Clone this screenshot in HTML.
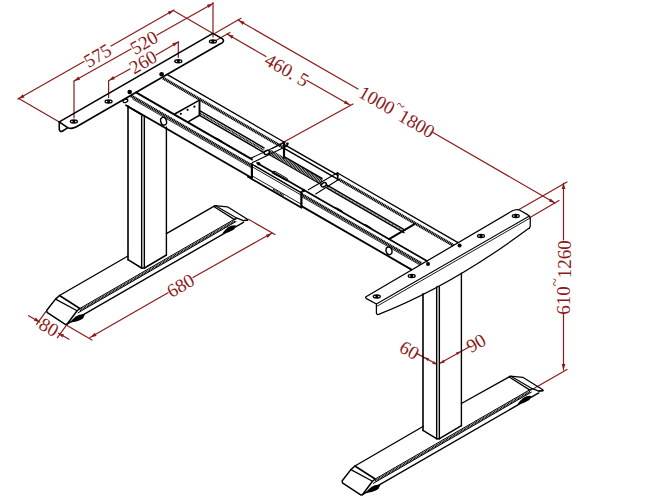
<!DOCTYPE html>
<html><head><meta charset="utf-8"><style>
html,body{margin:0;padding:0;background:#fff;}
svg{display:block;}
text{font-family:"Liberation Serif",serif;}
</style></head><body>
<svg width="651" height="500" viewBox="0 0 651 500" stroke-linecap="round">
<line x1="18.0" y1="99.0" x2="84.0" y2="61.5" stroke="#8b1a1a" stroke-width="1.2" />
<line x1="111.0" y1="46.0" x2="174.0" y2="10.0" stroke="#8b1a1a" stroke-width="1.2" />
<line x1="18.3" y1="98.2" x2="59.3" y2="121.9" stroke="#8b1a1a" stroke-width="1.2" />
<line x1="173.3" y1="10.5" x2="213.0" y2="33.4" stroke="#8b1a1a" stroke-width="1.2" />
<path d="M18.5,98.8 L22.8,94.3 L24.6,97.5 Z" fill="#8b1a1a"/>
<path d="M173.8,10.2 L169.5,14.7 L167.7,11.5 Z" fill="#8b1a1a"/>
<text transform="matrix(0.866,-0.5,0.5,0.866,97.5,55.5)" x="0" y="0" text-anchor="middle" dominant-baseline="central" font-family="Liberation Serif" font-size="19" fill="#8b1a1a">575</text>
<line x1="74.0" y1="81.0" x2="131.0" y2="49.0" stroke="#8b1a1a" stroke-width="1.2" />
<line x1="157.0" y1="35.0" x2="213.0" y2="3.5" stroke="#8b1a1a" stroke-width="1.2" />
<line x1="74.0" y1="81.0" x2="74.0" y2="118.0" stroke="#8b1a1a" stroke-width="1.2" />
<line x1="213.0" y1="2.5" x2="213.0" y2="37.0" stroke="#8b1a1a" stroke-width="1.2" />
<path d="M74.0,81.0 L78.3,76.5 L80.1,79.7 Z" fill="#8b1a1a"/>
<path d="M213.0,3.5 L208.7,8.0 L206.9,4.8 Z" fill="#8b1a1a"/>
<text transform="matrix(0.866,-0.5,0.5,0.866,144.0,42.5)" x="0" y="0" text-anchor="middle" dominant-baseline="central" font-family="Liberation Serif" font-size="19" fill="#8b1a1a">520</text>
<line x1="109.0" y1="80.5" x2="130.0" y2="69.0" stroke="#8b1a1a" stroke-width="1.2" />
<line x1="156.0" y1="55.0" x2="178.3" y2="42.0" stroke="#8b1a1a" stroke-width="1.2" />
<line x1="108.6" y1="80.5" x2="108.6" y2="97.5" stroke="#8b1a1a" stroke-width="1.2" />
<line x1="178.3" y1="41.5" x2="178.3" y2="57.5" stroke="#8b1a1a" stroke-width="1.2" />
<path d="M108.8,80.5 L113.1,76.0 L114.9,79.2 Z" fill="#8b1a1a"/>
<path d="M178.3,42.0 L174.0,46.5 L172.2,43.3 Z" fill="#8b1a1a"/>
<text transform="matrix(0.866,-0.5,0.5,0.866,143.0,62.0)" x="0" y="0" text-anchor="middle" dominant-baseline="central" font-family="Liberation Serif" font-size="19" fill="#8b1a1a">260</text>
<line x1="227.0" y1="34.0" x2="266.0" y2="56.5" stroke="#8b1a1a" stroke-width="1.2" />
<line x1="307.0" y1="80.5" x2="350.0" y2="105.0" stroke="#8b1a1a" stroke-width="1.2" />
<line x1="215.0" y1="41.0" x2="230.0" y2="32.5" stroke="#8b1a1a" stroke-width="1.2" />
<line x1="272.5" y1="148.3" x2="353.0" y2="104.0" stroke="#8b1a1a" stroke-width="1.2" />
<path d="M227.5,34.2 L233.6,35.6 L231.8,38.8 Z" fill="#8b1a1a"/>
<path d="M350.0,105.0 L343.9,103.6 L345.7,100.4 Z" fill="#8b1a1a"/>
<text transform="matrix(0.866,0.5,-0.5,0.866,287.0,70.0)" x="0" y="0" text-anchor="middle" dominant-baseline="central" font-family="Liberation Serif" font-size="19" fill="#8b1a1a">460. 5</text>
<line x1="238.0" y1="20.0" x2="358.0" y2="89.0" stroke="#8b1a1a" stroke-width="1.2" />
<line x1="433.0" y1="132.5" x2="555.0" y2="203.0" stroke="#8b1a1a" stroke-width="1.2" />
<line x1="215.0" y1="33.2" x2="241.0" y2="18.3" stroke="#8b1a1a" stroke-width="1.2" />
<line x1="530.0" y1="217.5" x2="559.0" y2="200.5" stroke="#8b1a1a" stroke-width="1.2" />
<path d="M238.5,20.3 L244.6,21.7 L242.8,24.9 Z" fill="#8b1a1a"/>
<path d="M555.0,203.0 L548.9,201.6 L550.7,198.4 Z" fill="#8b1a1a"/>
<text transform="matrix(0.866,0.5,-0.5,0.866,397.0,111.6)" x="0" y="0" text-anchor="middle" dominant-baseline="central" font-family="Liberation Serif" font-size="19" fill="#8b1a1a">1000<tspan dy="-7.5" font-size="15">~</tspan><tspan dy="7.5">1800</tspan></text>
<line x1="563.5" y1="183.0" x2="563.5" y2="240.0" stroke="#8b1a1a" stroke-width="1.2" />
<line x1="563.5" y1="314.0" x2="563.5" y2="370.0" stroke="#8b1a1a" stroke-width="1.2" />
<line x1="519.0" y1="209.6" x2="567.0" y2="182.0" stroke="#8b1a1a" stroke-width="1.2" />
<line x1="533.0" y1="389.0" x2="567.0" y2="369.5" stroke="#8b1a1a" stroke-width="1.2" />
<path d="M563.5,183.0 L565.4,189.0 L561.6,189.0 Z" fill="#8b1a1a"/>
<path d="M563.5,370.0 L561.6,364.0 L565.4,364.0 Z" fill="#8b1a1a"/>
<text transform="matrix(0,-1,1,0,563.5,277.5)" x="0" y="0" text-anchor="middle" dominant-baseline="central" font-family="Liberation Serif" font-size="19" fill="#8b1a1a">610<tspan dy="-8.5" font-size="15">~</tspan><tspan dy="8.5">1260</tspan></text>
<line x1="90.0" y1="337.5" x2="168.0" y2="292.8" stroke="#8b1a1a" stroke-width="1.2" />
<line x1="193.0" y1="277.5" x2="272.0" y2="233.0" stroke="#8b1a1a" stroke-width="1.2" />
<line x1="67.0" y1="325.5" x2="92.0" y2="340.0" stroke="#8b1a1a" stroke-width="1.2" />
<line x1="248.5" y1="219.3" x2="275.0" y2="234.5" stroke="#8b1a1a" stroke-width="1.2" />
<path d="M90.5,337.3 L94.8,332.7 L96.6,335.9 Z" fill="#8b1a1a"/>
<path d="M272.0,233.3 L267.7,237.9 L265.9,234.7 Z" fill="#8b1a1a"/>
<text transform="matrix(0.866,-0.5,0.5,0.866,180.5,285.5)" x="0" y="0" text-anchor="middle" dominant-baseline="central" font-family="Liberation Serif" font-size="19" fill="#8b1a1a">680</text>
<line x1="45.8" y1="311.7" x2="36.6" y2="324.3" stroke="#8b1a1a" stroke-width="1.2" />
<line x1="66.5" y1="325.2" x2="57.3" y2="337.8" stroke="#8b1a1a" stroke-width="1.2" />
<line x1="28.6" y1="315.7" x2="39.5" y2="322.0" stroke="#8b1a1a" stroke-width="1.2" />
<line x1="69.0" y1="339.3" x2="58.5" y2="333.2" stroke="#8b1a1a" stroke-width="1.2" />
<path d="M40.0,322.2 L33.9,320.8 L35.7,317.6 Z" fill="#8b1a1a"/>
<path d="M58.0,333.0 L64.1,334.4 L62.3,337.6 Z" fill="#8b1a1a"/>
<text transform="matrix(0.866,0.5,-0.5,0.866,49.0,327.0)" x="0" y="0" text-anchor="middle" dominant-baseline="central" font-family="Liberation Serif" font-size="19" fill="#8b1a1a">80</text>
<line x1="417.0" y1="353.6" x2="438.4" y2="365.0" stroke="#8b1a1a" stroke-width="1.2" />
<line x1="439.5" y1="363.6" x2="469.0" y2="347.0" stroke="#8b1a1a" stroke-width="1.2" />
<path d="M424.0,357.2 L429.1,358.2 L427.7,360.9 Z" fill="#8b1a1a"/>
<path d="M437.3,364.8 L432.2,363.8 L433.6,361.1 Z" fill="#8b1a1a"/>
<path d="M439.8,363.6 L443.4,359.8 L444.9,362.5 Z" fill="#8b1a1a"/>
<path d="M461.0,351.3 L457.4,355.1 L455.9,352.4 Z" fill="#8b1a1a"/>
<text transform="matrix(0.866,0.5,-0.5,0.866,409.5,350.0)" x="0" y="0" text-anchor="middle" dominant-baseline="central" font-family="Liberation Serif" font-size="19" fill="#8b1a1a">60</text>
<text transform="matrix(0.866,-0.5,0.5,0.866,476.0,343.0)" x="0" y="0" text-anchor="middle" dominant-baseline="central" font-family="Liberation Serif" font-size="19" fill="#8b1a1a">90</text>
<path d="M59.5,295.5 L55.5,299.1 L46.8,310.3 L47.0,312.3 L65.3,324.4 L67.0,324.2 L77.1,310.8 L79.8,308.5 L59.5,295.5" stroke="#000" stroke-width="1.5" fill="none" stroke-linejoin="round" />
<path d="M55.5,299.1 L77.1,310.8" stroke="#000" stroke-width="1.2" fill="none" stroke-linejoin="round" />
<path d="M213.8,206.4 L214.8,205.6 L227.4,206.8 L247.4,219.2 L247.6,220.2 L243.4,220.6 L237.0,218.2 L234.6,219.6 L214.2,206.8" stroke="#000" stroke-width="1.3" fill="none" stroke-linejoin="round" />
<path d="M215.5,205.8 L237.0,218.2" stroke="#000" stroke-width="1.1" fill="none" stroke-linejoin="round" />
<line x1="79.8" y1="308.5" x2="235.0" y2="218.9" stroke="#000" stroke-width="1.0" />
<line x1="79.8" y1="310.3" x2="235.0" y2="220.7" stroke="#000" stroke-width="2.0" stroke-dasharray="1.1 0.5" stroke-linecap="butt"/>
<line x1="78.0" y1="312.8" x2="236.0" y2="221.6" stroke="#000" stroke-width="1.0" />
<line x1="67.0" y1="324.2" x2="243.4" y2="222.4" stroke="#000" stroke-width="1.4" />
<path d="M243.4,220.6 L247.6,220.2" stroke="#000" stroke-width="1.2" fill="none" stroke-linejoin="round" />
<path d="M70.0,322.5 Q77.0,313.0 85.0,314.5 L83.0,318.5 Q78.0,322.0 70.0,322.5 Z" fill="#000"/>
<path d="M222.0,233.8 Q229.0,224.0 236.0,225.5 L234.0,229.5 Q229.0,233.0 222.0,233.8 Z" fill="#000"/>
<path d="M354.9,466.0 L350.9,469.6 L342.2,480.8 L342.4,482.8 L360.7,494.9 L362.4,494.7 L372.5,481.3 L375.2,479.0 L354.9,466.0" stroke="#000" stroke-width="1.5" fill="none" stroke-linejoin="round" />
<path d="M350.9,469.6 L372.5,481.3" stroke="#000" stroke-width="1.2" fill="none" stroke-linejoin="round" />
<path d="M509.2,376.9 L510.2,376.1 L522.8,377.3 L542.8,389.7 L543.0,390.7 L538.8,391.1 L532.4,388.7 L530.0,390.1 L509.6,377.3" stroke="#000" stroke-width="1.3" fill="none" stroke-linejoin="round" />
<path d="M510.9,376.3 L532.4,388.7" stroke="#000" stroke-width="1.1" fill="none" stroke-linejoin="round" />
<line x1="375.2" y1="479.0" x2="530.4" y2="389.4" stroke="#000" stroke-width="1.0" />
<line x1="375.2" y1="480.8" x2="530.4" y2="391.2" stroke="#000" stroke-width="2.0" stroke-dasharray="1.1 0.5" stroke-linecap="butt"/>
<line x1="373.4" y1="483.3" x2="531.4" y2="392.1" stroke="#000" stroke-width="1.0" />
<line x1="362.4" y1="494.7" x2="538.8" y2="392.9" stroke="#000" stroke-width="1.4" />
<path d="M538.8,391.1 L543.0,390.7" stroke="#000" stroke-width="1.2" fill="none" stroke-linejoin="round" />
<path d="M365.4,493.0 Q372.4,483.5 380.4,485.0 L378.4,489.0 Q373.4,492.5 365.4,493.0 Z" fill="#000"/>
<path d="M517.4,404.3 Q524.4,394.5 531.4,396.0 L529.4,400.0 Q524.4,403.5 517.4,404.3 Z" fill="#000"/>
<line x1="59.5" y1="295.5" x2="128.0" y2="256.0" stroke="#000" stroke-width="1.4" />
<line x1="166.4" y1="233.6" x2="213.8" y2="206.4" stroke="#000" stroke-width="1.4" />
<line x1="354.9" y1="466.0" x2="423.0" y2="426.5" stroke="#000" stroke-width="1.4" />
<line x1="461.4" y1="403.5" x2="509.2" y2="376.9" stroke="#000" stroke-width="1.4" />
<line x1="128.0" y1="106.0" x2="128.0" y2="259.7" stroke="#000" stroke-width="1.6" />
<line x1="143.0" y1="116.0" x2="143.0" y2="268.0" stroke="#a8a8a8" stroke-width="2.2" />
<line x1="141.5" y1="116.0" x2="141.5" y2="268.0" stroke="#000" stroke-width="1.1" />
<line x1="144.5" y1="116.0" x2="144.5" y2="268.0" stroke="#000" stroke-width="1.1" />
<line x1="166.4" y1="127.0" x2="166.4" y2="255.0" stroke="#000" stroke-width="1.4" />
<line x1="128.0" y1="259.7" x2="141.5" y2="268.0" stroke="#000" stroke-width="1.5" />
<line x1="141.5" y1="268.0" x2="144.5" y2="268.0" stroke="#000" stroke-width="1.5" />
<line x1="144.5" y1="268.0" x2="166.4" y2="255.0" stroke="#000" stroke-width="1.5" />
<line x1="423.0" y1="293.7" x2="423.0" y2="430.4" stroke="#000" stroke-width="1.6" />
<line x1="438.0" y1="286.7" x2="438.0" y2="438.7" stroke="#a8a8a8" stroke-width="2.2" />
<line x1="436.5" y1="286.7" x2="436.5" y2="438.7" stroke="#000" stroke-width="1.1" />
<line x1="439.5" y1="286.7" x2="439.5" y2="438.7" stroke="#000" stroke-width="1.1" />
<line x1="461.4" y1="273.2" x2="461.4" y2="425.7" stroke="#000" stroke-width="1.4" />
<line x1="423.0" y1="430.4" x2="436.5" y2="438.7" stroke="#000" stroke-width="1.5" />
<line x1="436.5" y1="438.7" x2="439.5" y2="438.7" stroke="#000" stroke-width="1.5" />
<line x1="439.5" y1="438.7" x2="461.4" y2="425.7" stroke="#000" stroke-width="1.5" />
<path d="M59.3,121.9 L212.9,33.4 L222.2,38.6 Q224.6,40.3 222.6,42.6 L220.3,43.8 L76.5,126.8 Q71.5,129.5 67.6,127.6 Z" stroke="#000" stroke-width="1.6" fill="none" stroke-linejoin="round" />
<path d="M59.3,121.9 L59.3,129.6 Q59.8,132 62.2,131.2 L67.6,127.9" stroke="#000" stroke-width="1.6" fill="none" stroke-linejoin="round" />
<ellipse cx="73.9" cy="121.4" rx="4.1" ry="2.25" fill="#000"/>
<circle cx="71.9" cy="121.4" r="0.75" fill="#fff"/>
<circle cx="75.9" cy="121.4" r="0.75" fill="#fff"/>
<ellipse cx="108.6" cy="101.4" rx="4.1" ry="2.25" fill="#000"/>
<circle cx="106.6" cy="101.4" r="0.75" fill="#fff"/>
<circle cx="110.6" cy="101.4" r="0.75" fill="#fff"/>
<ellipse cx="178.3" cy="61.2" rx="4.1" ry="2.25" fill="#000"/>
<circle cx="176.3" cy="61.2" r="0.75" fill="#fff"/>
<circle cx="180.3" cy="61.2" r="0.75" fill="#fff"/>
<ellipse cx="212.9" cy="41.4" rx="4.1" ry="2.25" fill="#000"/>
<circle cx="210.9" cy="41.4" r="0.75" fill="#fff"/>
<circle cx="214.9" cy="41.4" r="0.75" fill="#fff"/>
<path d="M366,296.8 L512,211 Q515.5,209 519,209.8 L527.5,214.6 Q530.5,216.3 530.3,219 L530.2,226.4 Q530,228.5 527.8,229 Q452,285.5 378.6,314.4 Q376.4,315 376.4,312.5 L376.4,304 L366.5,298.6 Q364.8,297.5 366,296.8 Z" stroke="#000" stroke-width="1.25" fill="none" stroke-linejoin="round" />
<line x1="376.4" y1="304.0" x2="529.4" y2="216.0" stroke="#000" stroke-width="1.1" />
<line x1="377.4" y1="306.0" x2="529.8" y2="218.2" stroke="#000" stroke-width="0.9" />
<ellipse cx="376.8" cy="296.4" rx="4.1" ry="2.25" fill="#000"/>
<circle cx="374.8" cy="296.4" r="0.75" fill="#fff"/>
<circle cx="378.8" cy="296.4" r="0.75" fill="#fff"/>
<ellipse cx="411.7" cy="276.0" rx="4.1" ry="2.25" fill="#000"/>
<circle cx="409.7" cy="276.0" r="0.75" fill="#fff"/>
<circle cx="413.7" cy="276.0" r="0.75" fill="#fff"/>
<ellipse cx="481.0" cy="236.0" rx="4.1" ry="2.25" fill="#000"/>
<circle cx="479.0" cy="236.0" r="0.75" fill="#fff"/>
<circle cx="483.0" cy="236.0" r="0.75" fill="#fff"/>
<ellipse cx="515.8" cy="216.0" rx="4.1" ry="2.25" fill="#000"/>
<circle cx="513.8" cy="216.0" r="0.75" fill="#fff"/>
<circle cx="517.8" cy="216.0" r="0.75" fill="#fff"/>
<line x1="136.0" y1="92.4" x2="252.0" y2="159.4" stroke="#000" stroke-width="1.9" />
<line x1="257.0" y1="162.9" x2="427.0" y2="261.0" stroke="#000" stroke-width="1.7" />
<line x1="131.0" y1="95.9" x2="251.5" y2="165.5" stroke="#000" stroke-width="3.0" stroke-dasharray="1.3 0.45" stroke-linecap="butt"/>
<line x1="301.5" y1="194.4" x2="421.5" y2="263.7" stroke="#000" stroke-width="3.0" stroke-dasharray="1.3 0.45" stroke-linecap="butt"/>
<line x1="133.0" y1="99.4" x2="251.5" y2="167.8" stroke="#000" stroke-width="0.8" />
<line x1="301.5" y1="196.7" x2="419.5" y2="264.8" stroke="#000" stroke-width="0.8" />
<line x1="126.0" y1="105.3" x2="251.5" y2="177.8" stroke="#000" stroke-width="1.8" />
<line x1="248.0" y1="176.8" x2="301.5" y2="207.7" stroke="#000" stroke-width="1.8" />
<line x1="301.5" y1="206.1" x2="411.5" y2="269.6" stroke="#000" stroke-width="1.8" />
<line x1="167.0" y1="74.4" x2="284.0" y2="142.0" stroke="#000" stroke-width="1.3" />
<line x1="338.0" y1="173.3" x2="458.0" y2="242.6" stroke="#000" stroke-width="1.3" />
<line x1="163.0" y1="78.1" x2="284.0" y2="148.0" stroke="#000" stroke-width="3.0" stroke-dasharray="1.3 0.45" stroke-linecap="butt"/>
<line x1="339.0" y1="179.4" x2="453.5" y2="245.5" stroke="#000" stroke-width="3.0" stroke-dasharray="1.3 0.45" stroke-linecap="butt"/>
<line x1="284.0" y1="144.3" x2="338.0" y2="175.4" stroke="#000" stroke-width="1.5" />
<line x1="285.0" y1="148.8" x2="338.0" y2="179.4" stroke="#000" stroke-width="1.5" />
<line x1="285.0" y1="157.1" x2="322.0" y2="178.5" stroke="#000" stroke-width="1.5" />
<line x1="270.0" y1="151.7" x2="322.0" y2="181.7" stroke="#000" stroke-width="4.6" stroke-dasharray="0.9 0.6" stroke-linecap="butt"/>
<line x1="269.0" y1="154.4" x2="322.0" y2="185.0" stroke="#000" stroke-width="1.1" />
<line x1="200.0" y1="110.9" x2="264.0" y2="147.8" stroke="#000" stroke-width="1.5" />
<line x1="200.0" y1="113.3" x2="264.0" y2="150.2" stroke="#000" stroke-width="1.6" stroke-dasharray="1.1 0.5" stroke-linecap="butt"/>
<line x1="200.0" y1="115.7" x2="264.0" y2="152.6" stroke="#000" stroke-width="1.5" />
<line x1="327.0" y1="185.2" x2="405.0" y2="230.2" stroke="#000" stroke-width="1.4" />
<line x1="327.0" y1="186.7" x2="404.5" y2="231.4" stroke="#000" stroke-width="0.9" stroke-dasharray="0.8 0.8" stroke-linecap="butt"/>
<line x1="327.0" y1="188.2" x2="404.0" y2="232.6" stroke="#000" stroke-width="1.4" />
<path d="M213.0,137.0 L217.5,137.9 L221.5,140.5 L226.0,144.8 Z" fill="#000"/>
<path d="M333.0,206.8 L337.5,207.7 L341.5,210.3 L346.0,214.6 Z" fill="#000"/>
<path d="M362.0,223.5 L366.5,224.4 L370.5,227.0 L375.0,231.3 Z" fill="#000"/>
<line x1="174.7" y1="114.0" x2="199.5" y2="100.2" stroke="#000" stroke-width="1.5" />
<line x1="199.5" y1="100.2" x2="199.5" y2="115.3" stroke="#000" stroke-width="1.9" />
<line x1="199.5" y1="115.3" x2="188.5" y2="121.6" stroke="#000" stroke-width="1.6" />
<circle cx="180.8" cy="113.8" r="1.1" fill="#000"/>
<circle cx="187.6" cy="109.8" r="1.1" fill="#000"/>
<circle cx="194.4" cy="106.7" r="1.1" fill="#000"/>
<circle cx="129.7" cy="92.0" r="2.3" fill="#000"/>
<circle cx="161.6" cy="74.3" r="2.3" fill="#000"/>
<circle cx="428.0" cy="264.0" r="2.0" fill="#000"/>
<circle cx="459.6" cy="245.6" r="2.0" fill="#000"/>
<ellipse cx="163.6" cy="121.2" rx="2.9" ry="3.9" transform="rotate(-15 163.6 121.2)" fill="none" stroke="#000" stroke-width="1.4"/>
<ellipse cx="389.0" cy="250.8" rx="2.9" ry="3.9" transform="rotate(-15 389.0 250.8)" fill="none" stroke="#000" stroke-width="1.4"/>
<ellipse cx="125.4" cy="100.8" rx="2.5" ry="1.6" transform="rotate(-20 125.4 100.8)" fill="none" stroke="#000" stroke-width="1.3"/>
<line x1="128.0" y1="106.6" x2="143.0" y2="115.6" stroke="#000" stroke-width="1.6" />
<line x1="284.0" y1="142.5" x2="284.0" y2="157.8" stroke="#000" stroke-width="2.2" />
<line x1="250.0" y1="158.6" x2="285.2" y2="142.2" stroke="#000" stroke-width="1.1" />
<line x1="252.4" y1="162.6" x2="287.6" y2="145.8" stroke="#000" stroke-width="1.1" />
<ellipse cx="266.8" cy="152.4" rx="2.8" ry="1.9" transform="rotate(-25 266.8 152.4)" fill="none" stroke="#000" stroke-width="1.5"/>
<circle cx="287.4" cy="143.8" r="1.4" fill="#000"/>
<line x1="251.9" y1="164.2" x2="251.9" y2="177.8" stroke="#000" stroke-width="2.2" />
<line x1="301.4" y1="192.2" x2="301.4" y2="205.7" stroke="#000" stroke-width="2.2" />
<line x1="252.4" y1="164.5" x2="301.4" y2="192.8" stroke="#000" stroke-width="1.4" />
<line x1="253.0" y1="167.3" x2="301.4" y2="195.2" stroke="#000" stroke-width="0.9" />
<line x1="252.0" y1="175.8" x2="301.4" y2="204.3" stroke="#000" stroke-width="0.9" />
<path d="M272,172.4 Q273.5,170.6 275,171.4 L287.3,178.6 Q288.5,180.2 287,181 L272.5,173.2" stroke="#000" stroke-width="1.0" fill="none" stroke-linejoin="round" />
<line x1="273.0" y1="189.3" x2="284.0" y2="195.7" stroke="#000" stroke-width="1.4" stroke-dasharray="1.1 0.5" stroke-linecap="butt"/>
<circle cx="258.7" cy="163.7" r="1.7" fill="#000"/>
<circle cx="303.5" cy="190.5" r="1.7" fill="#000"/>
<line x1="308.3" y1="189.8" x2="337.8" y2="172.6" stroke="#000" stroke-width="1.1" />
<line x1="315.7" y1="194.0" x2="339.0" y2="179.3" stroke="#000" stroke-width="1.1" />
<ellipse cx="323.7" cy="184.8" rx="2.8" ry="1.9" transform="rotate(-25 323.7 184.8)" fill="none" stroke="#000" stroke-width="1.5"/>
<line x1="337.7" y1="173.5" x2="337.7" y2="180.0" stroke="#000" stroke-width="1.6" />
<line x1="389.1" y1="239.1" x2="414.5" y2="224.1" stroke="#000" stroke-width="1.9" />
</svg></body></html>
